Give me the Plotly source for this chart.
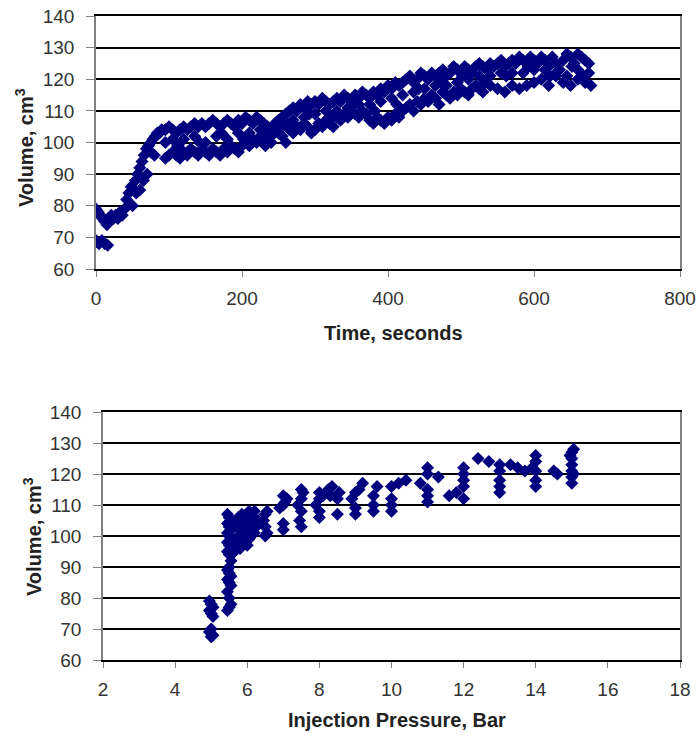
import plotly.graph_objects as go

# ---- data: top chart (time, volume) ----
top_upper = [(0,79),(3,78),(6,77),(9,76),(12,75),(15,74),(18,76),(21,77),(24,76),(27,77),(30,76),(33,78),(36,77),(39,79),
 (42,82),(45,84),(48,86),(51,85),(54,88),(57,90),(60,92),(63,94),(66,96),(69,98),(72,99),(75,100),(78,101),(81,102),
 (84,103),(87,103),(90,104),(95,104),(100,105),(105,104),(110,103),(115,104),(120,105),(125,104),(130,105),(135,106),
 (140,105),(145,106),(150,105),(155,106),(160,107),(165,106),(170,105),(175,106),(180,107),(185,106),(190,105),(195,107),
 (200,106),(205,108),(210,107),(215,106),(220,108),(225,107),(230,106),(235,105),(240,104),(245,106),(250,107),(255,108),
 (260,109),(265,110),(270,111),(275,110),(280,112),(285,111),(290,113),(295,112),(300,113),(305,112),(310,114),(315,113),
 (320,112),(325,113),(330,114),(335,113),(340,115),(345,114),(350,113),(355,115),(360,114),(365,116),(370,115),(375,114),
 (380,116),(385,115),(390,117),(395,116),(400,118),(405,117),(410,119),(415,118),(420,119),(425,120),(430,121),(435,119),
 (440,120),(445,122),(450,121),(455,120),(460,122),(465,121),(470,122),(475,123),(480,121),(485,122),(490,124),(495,123),
 (500,122),(505,124),(510,123),(515,122),(520,124),(525,125),(530,124),(535,123),(540,125),(545,124),(550,125),(555,126),
 (560,124),(565,125),(570,126),(575,125),(580,127),(585,126),(590,125),(595,127),(600,126),(605,125),(610,127),(615,126),
 (620,124),(625,127),(630,125),(635,123),(640,126),(645,128),(650,127),(655,125),(660,128),(665,127),(670,126),(675,125)]

top_middle = [(95,100),(105,101),(120,101),(135,102),(150,100),(165,102),(180,101),(195,103),(210,103),(225,104),(240,100),
 (255,105),(270,107),(285,108),(300,109),(315,110),(330,110),(345,111),(360,112),(375,112),(390,113),(405,114),(420,115),
 (435,116),(450,117),(465,118),(480,118),(495,119),(510,120),(525,121),(540,121),(555,122),(570,122),(585,122),(600,123),
 (615,123),(630,122),(645,121),(660,123),(675,122),(112,99),(142,100),(172,103),(202,101),(232,99),(262,106),(292,109),
 (322,108),(352,112),(382,110),(412,112),(442,117),(472,119),(502,121),(532,119),(562,121),(592,124),(622,121),(652,124),
 (668,121)]

top_lower = [(0,69),(4,68),(8,69),(12,68),(16,67.5),(50,80),(55,84),(60,85),(65,88),(70,90),(75,97),(80,96),(95,95),
 (100,96),(105,97),(110,96),(115,95),(120,97),(125,96),(130,98),(135,97),(140,96),(145,98),(150,97),(155,96),(160,98),
 (165,97),(170,96),(175,98),(180,97),(185,99),(190,98),(195,97),(200,99),(205,100),(210,99),(215,101),(220,100),(225,102),
 (230,101),(235,103),(240,102),(245,104),(250,103),(255,102),(260,100),(265,104),(270,103),(275,105),(280,104),(285,106),
 (290,105),(295,103),(300,104),(305,106),(310,105),(315,107),(320,106),(325,105),(330,108),(335,107),(340,109),(345,108),
 (350,110),(355,109),(360,108),(365,110),(370,109),(375,107),(380,106),(385,108),(390,107),(395,106),(400,108),(405,107),
 (410,109),(415,108),(420,110),(425,111),(430,112),(435,110),(440,113),(445,112),(450,114),(455,113),(460,115),(465,114),
 (470,112),(475,116),(480,115),(485,114),(490,116),(495,115),(500,117),(505,116),(510,115),(515,117),(520,118),(525,117),
 (530,116),(540,118),(550,117),(560,116),(570,118),(580,117),(590,118),(600,119),(610,120),(620,118),(630,121),(640,119),
 (650,118),(660,120),(670,119),(678,118)]

# ---- data: bottom chart (pressure, volume) ----
bottom_points = [(4.95,79),(5.0,78),(5.05,77),(4.95,76),(5.0,75),(5.05,74),(5.0,70),(4.95,69),(5.05,68),(5.0,67.5),
 (5.45,76),(5.5,77),(5.55,78),(5.5,80),(5.45,82),(5.55,84),(5.5,85),(5.45,86),(5.55,87),(5.5,88),(5.45,89),(5.5,90),
 (5.55,92),(5.5,94),(5.45,95),(5.55,96),(5.5,97),(5.45,98),(5.55,99),(5.5,100),(5.45,101),(5.55,102),(5.5,103),(5.45,104),
 (5.55,105),(5.5,106),(5.45,107),
 (5.7,98),(5.75,100),(5.8,102),(5.7,104),(5.75,106),(5.85,107),(5.9,99),(5.95,101),(5.9,103),(5.95,105),(6.0,107),(6.05,108),
 (6.0,97),(6.05,99),(6.1,100),(6.0,102),(6.1,104),(6.15,106),(6.2,101),(6.25,103),(6.3,105),(6.2,108),(5.8,96),(5.65,95),
 (6.5,100),(6.55,101),(6.5,103),(6.45,105),(6.5,107),(6.55,108),
 (7.0,102),(7.0,104),(6.9,109),(7.0,110),(7.05,111),(7.1,112),(7.0,113),
 (7.5,103),(7.45,105),(7.5,108),(7.4,110),(7.5,112),(7.55,114),(7.5,115),
 (8.0,106),(8.0,108),(7.9,110),(8.0,112),(8.1,113),(8.0,114),
 (8.3,113),(8.25,115),(8.35,116),(8.5,107),(8.5,112),(8.55,114),
 (9.0,107),(9.0,109),(8.9,112),(9.0,114),(9.1,115),(9.2,117),
 (9.5,108),(9.5,110),(9.5,113),(9.6,116),
 (10.0,108),(10.0,110),(10.0,112),(10.0,116),(10.2,117),(10.4,118),
 (11.0,111),(11.0,113),(11.0,115),(10.8,117),(11.0,120),(11.0,122),(11.3,119),
 (12.0,112),(11.8,114),(12.0,116),(12.0,118),(12.0,120),(12.0,122),(11.6,113),
 (12.4,125),(12.7,124),
 (13.0,114),(13.0,116),(13.0,118),(13.0,121),(13.0,123),
 (13.5,122),(13.7,121),(13.3,123),
 (14.0,116),(14.0,118),(14.0,121),(14.0,124),(14.0,126),(13.9,122),
 (14.5,121),(14.6,120),
 (15.0,117),(15.0,119),(15.0,121),(15.0,123),(15.0,125),(15.0,127),(15.05,128),(14.95,126),(15.05,120)]

time_s = [p[0] for p in top_upper + top_middle + top_lower]
vol_time = [p[1] for p in top_upper + top_middle + top_lower]
pressure_bar = [p[0] for p in bottom_points]
vol_pressure = [p[1] for p in bottom_points]

y_ticks = [60, 70, 80, 90, 100, 110, 120, 130, 140]
x1_ticks = [0, 200, 400, 600, 800]
x2_ticks = [2, 4, 6, 8, 10, 12, 14, 16, 18]

W, H = 700, 736
NAVY = "#00007f"
FONT = "Liberation Sans, Arial, sans-serif"

fig = go.Figure()
fig.add_trace(go.Scatter(x=time_s, y=vol_time, mode="markers", xaxis="x", yaxis="y",
                         marker=dict(symbol="diamond", size=10, color=NAVY, line=dict(width=0)),
                         showlegend=False))
fig.add_trace(go.Scatter(x=pressure_bar, y=vol_pressure, mode="markers", xaxis="x2", yaxis="y2",
                         marker=dict(symbol="diamond", size=10, color=NAVY, line=dict(width=0)),
                         showlegend=False))

tickfont = dict(family=FONT, size=19, color="#333333")

def xax(domain, rng, ticks, anchor):
    return dict(domain=domain, range=rng, tickvals=ticks, anchor=anchor, showgrid=False,
                showline=True, linecolor="black", linewidth=1.5, mirror=True,
                ticks="outside", ticklen=6, tickcolor="#808080", tickwidth=1,
                tickfont=tickfont, zeroline=False, automargin=False, ticklabelstandoff=5)

def yax(domain, anchor):
    return dict(domain=domain, range=[60, 140], tickvals=y_ticks, anchor=anchor,
                showgrid=True, gridcolor="black", gridwidth=1.5,
                showline=True, linecolor="#808080", linewidth=1.5, mirror=True,
                ticks="outside", ticklen=8, tickcolor="#808080", tickwidth=1,
                tickfont=tickfont, zeroline=False, automargin=False, ticklabelstandoff=8)

top_y = [(H - 269) / H, (H - 16) / H]
bot_y = [(H - 660) / H, (H - 412) / H]

fig.update_layout(
    width=W, height=H,
    margin=dict(l=0, r=0, t=0, b=0),
    paper_bgcolor="white", plot_bgcolor="white",
    font=dict(family=FONT),
    xaxis=xax([96 / W, 680 / W], [0, 800], x1_ticks, "y"),
    yaxis=yax(top_y, "x"),
    xaxis2=xax([103 / W, 680 / W], [2, 18], x2_ticks, "y2"),
    yaxis2=yax(bot_y, "x2"),
)

title_font = dict(family=FONT, size=20, color="#222222")
fig.add_annotation(text="<b>Time, seconds</b>", x=393 / W, y=(H - 333) / H, xref="paper", yref="paper",
                   showarrow=False, font=title_font, xanchor="center", yanchor="middle")
fig.add_annotation(text="<b>Volume, cm<sup>3</sup></b>", x=24 / W, y=(H - 148) / H, xref="paper", yref="paper",
                   showarrow=False, font=title_font, textangle=-90, xanchor="center", yanchor="middle")
fig.add_annotation(text="<b>Injection Pressure, Bar</b>", x=397 / W, y=(H - 720) / H, xref="paper", yref="paper",
                   showarrow=False, font=title_font, xanchor="center", yanchor="middle")
fig.add_annotation(text="<b>Volume, cm<sup>3</sup></b>", x=32 / W, y=(H - 537) / H, xref="paper", yref="paper",
                   showarrow=False, font=title_font, textangle=-90, xanchor="center", yanchor="middle")

fig.write_html("out.html", config={"displayModeBar": False},
               post_script="document.body.style.margin='0px';document.body.style.overflow='hidden';")
